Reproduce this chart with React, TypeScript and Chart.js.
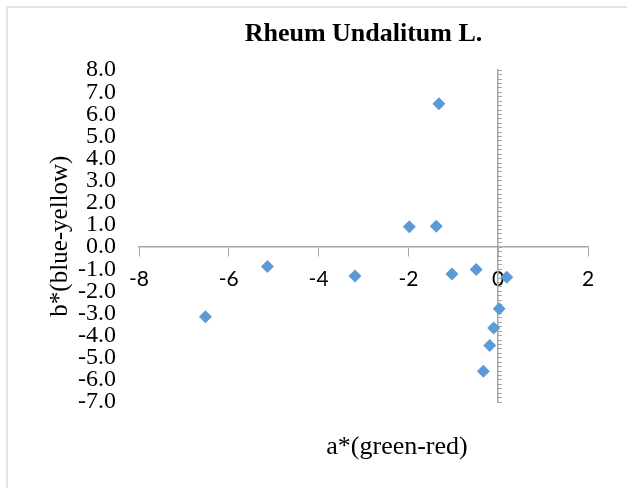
import React, { useEffect, useRef } from 'react';
import { Chart, registerables } from 'chart.js';

Chart.register(...registerables);

// a* (green-red) and b* (blue-yellow) values
const aValues: number[] = [-1.32, -1.98, -1.38, -5.14, -3.19, -1.03, -0.49, 0.19, -6.52, 0.02, -0.1, -0.19, -0.33];
const bValues: number[] = [6.48, 0.92, 0.95, -0.87, -1.3, -1.21, -1.01, -1.36, -3.15, -2.79, -3.65, -4.45, -5.61];

const titleText = 'Rheum Undalitum L.';
const xTitleText = 'a*(green-red)';
const yTitleText = 'b*(blue-yellow)';

const xMin = -8;
const xMax = 2;
const xStep = 2;
const yMin = -7;
const yMax = 8;
const yStep = 1;
const yMinorStep = 0.2;

const AXIS_GRAY = '#a6a6a6';
const SERIF = "'Liberation Serif', 'Times New Roman', serif";

const xTitlePlugin = {
  id: 'xTitlePlugin',
  afterDraw(chart: any) {
    const { ctx } = chart;
    ctx.save();
    ctx.font = `26px ${SERIF}`;
    ctx.fillStyle = '#000';
    ctx.textAlign = 'center';
    ctx.textBaseline = 'middle';
    ctx.fillText(xTitleText, 397, 447);
    ctx.restore();
  },
};

export default function App() {
  const canvasRef = useRef<HTMLCanvasElement | null>(null);

  useEffect(() => {
    if (!canvasRef.current) return;
    const points = aValues.map((a, i) => ({ x: a, y: bValues[i] }));
    const chart = new Chart(canvasRef.current, {
      type: 'scatter',
      data: {
        datasets: [
          {
            label: 'b*',
            data: points,
            pointStyle: 'rectRot',
            pointRadius: 6.5,
            pointHoverRadius: 6.5,
            pointBackgroundColor: '#5b9bd5',
            pointBorderColor: '#5b9bd5',
            pointBorderWidth: 0,
            xAxisID: 'x',
            yAxisID: 'y',
          },
        ],
      },
      plugins: [xTitlePlugin],
      options: {
        animation: false,
        responsive: true,
        maintainAspectRatio: false,
        layout: { padding: { left: 42, right: 39, top: 0, bottom: 86 } },
        plugins: {
          legend: { display: false },
          tooltip: { enabled: false },
          title: {
            display: true,
            fullSize: false,
            text: titleText,
            color: '#000',
            font: { family: SERIF, size: 26, weight: 'bold', lineHeight: 1.2 },
            padding: { top: 19, bottom: 20 },
          },
        },
        scales: {
          x: {
            type: 'linear',
            position: { y: 0 } as any,
            min: xMin,
            max: xMax,
            ticks: {
              stepSize: xStep,
              color: '#000',
              font: { family: 'Lato', size: 21, lineHeight: 1 },
              padding: 13,
              maxRotation: 0,
              autoSkip: false,
            },
            grid: {
              drawOnChartArea: false,
              drawTicks: true,
              tickLength: 9,
              color: AXIS_GRAY,
              lineWidth: 1,
            },
            border: { display: true, color: AXIS_GRAY, width: 1.5 },
          },
          y: {
            type: 'linear',
            position: 'left',
            min: yMin,
            max: yMax,
            afterFit: (scale: any) => {
              scale.width = 97;
            },
            ticks: {
              stepSize: yStep,
              color: '#000',
              autoSkip: false,
              font: { family: SERIF, size: 24, lineHeight: 1 },
              padding: 23,
              callback: (v: any) => Number(v).toFixed(1),
            },
            grid: { display: false, drawTicks: false },
            border: { display: false },
            title: {
              display: true,
              text: yTitleText,
              color: '#000',
              font: { family: SERIF, size: 25, lineHeight: 1.2 },
              padding: { top: 3, bottom: 4 },
            },
          },
          yAxisLine: {
            type: 'linear',
            axis: 'y',
            position: { x: 0 } as any,
            min: yMin,
            max: yMax,
            ticks: { display: false, stepSize: yMinorStep },
            grid: {
              drawOnChartArea: false,
              drawTicks: true,
              tickLength: -5,
              color: AXIS_GRAY,
              lineWidth: 1,
            },
            border: { display: true, color: AXIS_GRAY, width: 1.5 },
          },
        },
      },
    } as any);
    return () => chart.destroy();
  }, []);

  return (
    <div style={{ position: 'fixed', left: 0, top: 0, width: 627, height: 488, background: '#fff' }}>
      <div
        style={{
          position: 'absolute',
          left: 6,
          top: 6,
          right: -10,
          bottom: -10,
          borderLeft: '2px solid #e4e4e4',
          borderTop: '2px solid #e4e4e4',
        }}
      />
      <canvas ref={canvasRef} style={{ position: 'absolute', left: 0, top: 0, width: 627, height: 488 }} />
    </div>
  );
}
